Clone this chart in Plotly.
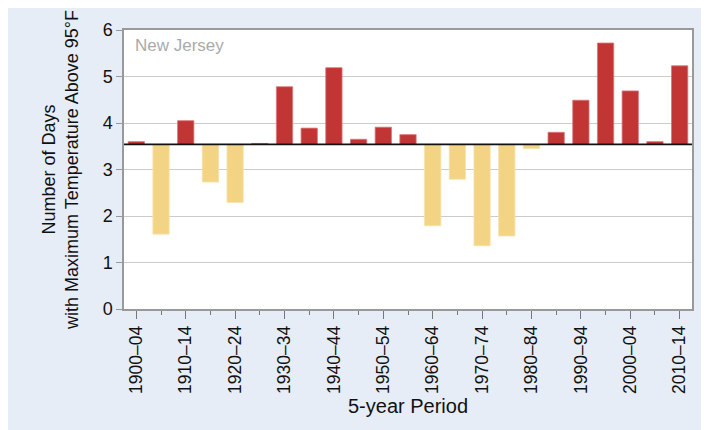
import plotly.graph_objects as go

periods = ["1900–04", "1905–09", "1910–14", "1915–19", "1920–24", "1925–29",
           "1930–34", "1935–39", "1940–44", "1945–49", "1950–54", "1955–59",
           "1960–64", "1965–69", "1970–74", "1975–79", "1980–84", "1985–89",
           "1990–94", "1995–99", "2000–04", "2005–09", "2010–14"]
days = [3.60, 1.61, 4.05, 2.73, 2.29, 3.56, 4.78, 3.89, 5.19, 3.65, 3.91, 3.75,
        1.79, 2.79, 1.36, 1.57, 3.45, 3.80, 4.49, 5.72, 4.69, 3.60, 5.23]
BASELINE = 3.54
y_ticks = [0, 1, 2, 3, 4, 5, 6]

RED = "#c13535"
YELLOW = "#f3d484"
PANEL = "#e7edf6"

idx = list(range(len(periods)))
colors = [RED if v >= BASELINE else YELLOW for v in days]
lines = ["#d9767a" if v >= BASELINE else "#f7e2a8" for v in days]

fig = go.Figure()
fig.add_trace(go.Bar(
    x=idx, y=[v - BASELINE for v in days], base=BASELINE,
    marker=dict(color=colors, line=dict(color=lines, width=0.8)),
    width=0.66, hoverinfo="skip", showlegend=False,
))

fig.add_shape(type="line", xref="paper", x0=0, x1=1, yref="y",
              y0=BASELINE, y1=BASELINE, line=dict(color="#111111", width=1.6))

fig.add_annotation(text="New Jersey", xref="paper", yref="paper", x=0.016, y=0.985,
                   xanchor="left", yanchor="top", showarrow=False,
                   font=dict(size=17, color="#aaaaaa"))

font_family = "Liberation Sans, Arial, sans-serif"
fig.update_layout(
    width=701, height=422,
    margin=dict(l=116, r=17, t=20, b=121),
    paper_bgcolor=PANEL, plot_bgcolor="white",
    font=dict(family=font_family, size=16, color="#111111"),
    xaxis=dict(
        range=[-0.5, len(periods) - 0.5],
        tickmode="array", tickvals=idx[::2], ticktext=periods[::2],
        tickangle=-90, ticks="outside", ticklen=8, tickcolor="#777777",
        tickwidth=1.2, tickfont=dict(size=17.5),
        minor=dict(tickmode="array", tickvals=idx[1::2], ticks="outside",
                   ticklen=4, tickcolor="#777777", tickwidth=1.2),
        showgrid=False, zeroline=False,
        showline=True, linecolor="#999999", linewidth=1.5, mirror=True,
        title=dict(text="5-year Period", font=dict(size=20), standoff=6),
    ),
    yaxis=dict(
        range=[0, 6], tickvals=y_ticks, ticks="outside", ticklen=6,
        tickcolor="#999999", tickwidth=1.2, tickfont=dict(size=18),
        showgrid=True, gridcolor="#cccccc", gridwidth=1.2, zeroline=False,
        showline=True, linecolor="#999999", linewidth=1.5, mirror=True,
        title=dict(text="Number of Days<br>with Maximum Temperature Above 95°F",
                   font=dict(size=18), standoff=19),
    ),
)

fig.write_html("out.html")
